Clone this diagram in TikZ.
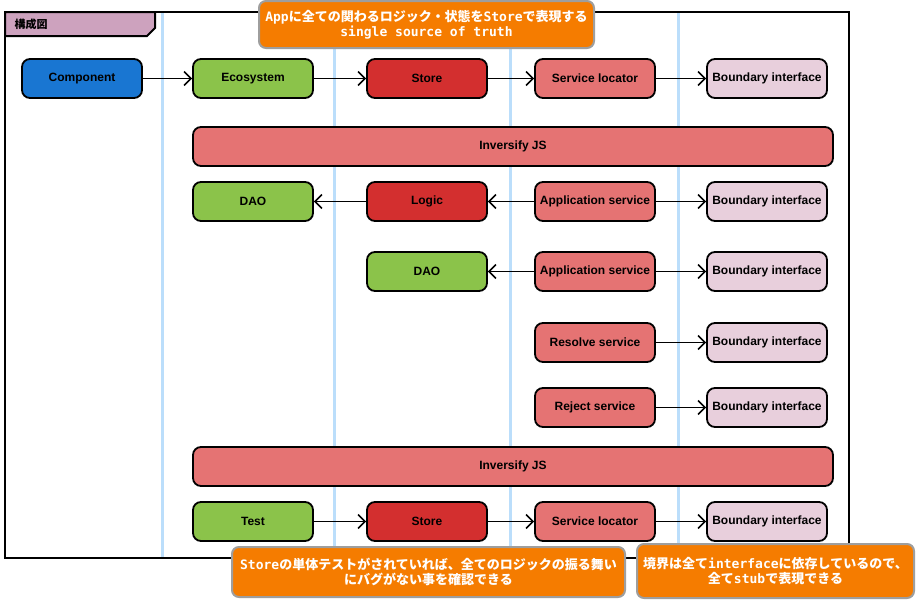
\documentclass[tikz,border=0pt]{standalone}
\usepackage{fontspec}
\setmainfont{Liberation Sans}
\newfontfamily\jp{Noto Sans CJK JP}
\newfontfamily\mono{DejaVu Sans Mono}
\usetikzlibrary{arrows.meta}
\definecolor{cblue}{HTML}{1976D2}
\definecolor{cgreen}{HTML}{8BC34A}
\definecolor{cred}{HTML}{D32F2F}
\definecolor{csalmon}{HTML}{E57373}
\definecolor{cpink}{HTML}{E8CFDC}
\definecolor{ctab}{HTML}{CDA2BE}
\definecolor{corange}{HTML}{F57C00}
\definecolor{cgray}{HTML}{9E9E9E}
\definecolor{clane}{HTML}{BBDEFB}
\tikzset{
  box/.style={draw=black, line width=1.8pt, rounded corners=8pt, minimum width=120pt, minimum height=39pt, inner sep=0pt, font=\bfseries\fontsize{12}{14}\selectfont, text=black},
  wide/.style={box, minimum width=640pt},
  note/.style={draw=cgray, fill=corange, line width=2pt, rounded corners=7pt, inner sep=0pt, text=white, align=center, font=\jp\bfseries\fontsize{13}{14.5}\selectfont},
  conn/.style={draw=black, line width=1.5pt, -{Straight Barb[length=7pt,width=14pt,line width=1.5pt]}},
  lane/.style={draw=clane, line width=3pt}
}
\begin{document}
\begin{tikzpicture}[x=1pt,y=-1pt]
\useasboundingbox (0,0) rectangle (916,600);
\fill[white] (0,0) rectangle (916,600);
% frame
\draw[black, line width=2pt] (5,12) rectangle (849,558);
% lanes
\foreach \x/\n in {162/l1,334/l2,510/l3,678/l4} {
  \coordinate (\n t) at (\x,13);
  \coordinate (\n b) at (\x,557);
  \draw[lane] (\n t) -- (\n b);
}
% title tab
\draw[black, line width=2pt, fill=ctab] (5,12) -- (155,12) -- (155,28) -- (147,36) -- (5,36) -- cycle;
\node[anchor=west, font=\jp\bfseries\fontsize{11}{13}\selectfont] (title) at (11,24) {構成図};

% row 1
\node[box, fill=cblue] (comp) at (82,78.5) {Component};
\node[box, fill=cgreen] (eco) at (253,78.5) {Ecosystem};
\node[box, fill=cred] (store1) at (427,78.5) {Store};
\node[box, fill=csalmon] (sl1) at (595,78.5) {Service locator};
\node[box, fill=cpink] (bi1) at (767,78.5) {Boundary interface};
% inversify 1
\node[wide, fill=csalmon] (inv1) at (513,146.5) {Inversify JS};
% row 3
\node[box, fill=cgreen] (dao1) at (253,201.5) {DAO};
\node[box, fill=cred] (logic) at (427,201.5) {Logic};
\node[box, fill=csalmon] (as1) at (595,201.5) {Application service};
\node[box, fill=cpink] (bi3) at (767,201.5) {Boundary interface};
% row 4
\node[box, fill=cgreen] (dao2) at (427,271.5) {DAO};
\node[box, fill=csalmon] (as2) at (595,271.5) {Application service};
\node[box, fill=cpink] (bi4) at (767,271.5) {Boundary interface};
% row 5
\node[box, fill=csalmon] (res) at (595,342.5) {Resolve service};
\node[box, fill=cpink] (bi5) at (767,342.5) {Boundary interface};
% row 6
\node[box, fill=csalmon] (rej) at (595,407.5) {Reject service};
\node[box, fill=cpink] (bi6) at (767,407.5) {Boundary interface};
% inversify 2
\node[wide, fill=csalmon] (inv2) at (513,466.5) {Inversify JS};
% row 8
\node[box, fill=cgreen] (test) at (253,521.5) {Test};
\node[box, fill=cred] (store2) at (427,521.5) {Store};
\node[box, fill=csalmon] (sl2) at (595,521.5) {Service locator};
\node[box, fill=cpink] (bi8) at (767,521.5) {Boundary interface};

% connectors
\draw[conn] (comp) -- (eco);
\draw[conn] (eco) -- (store1);
\draw[conn] (store1) -- (sl1);
\draw[conn] (sl1) -- (bi1);
\draw[conn] (logic) -- (dao1);
\draw[conn] (as1) -- (logic);
\draw[conn] (as1) -- (bi3);
\draw[conn] (as2) -- (dao2);
\draw[conn] (as2) -- (bi4);
\draw[conn] (res) -- (bi5);
\draw[conn] (rej) -- (bi6);
\draw[conn] (test) -- (store2);
\draw[conn] (store2) -- (sl2);
\draw[conn] (sl2) -- (bi8);

% notes
\node[note, minimum width=335pt, minimum height=47pt] (n1) at (426.5,24.5) {{\mono\bfseries App}に全ての関わるロジック・状態を{\mono\bfseries Store}で表現する\\{\mono\bfseries single source of truth}};
\node[note, minimum width=393pt, minimum height=50pt] (n2) at (428.5,572) {{\mono\bfseries Store}の単体テストがされていれば、全てのロジックの振る舞い\\にバグがない事を確認できる};
\node[note, minimum width=277pt, minimum height=54pt] (n3) at (775.5,571) {境界は全て{\mono\bfseries interface}に依存しているので、\\全て{\mono\bfseries stub}で表現できる};
\end{tikzpicture}
\end{document}
